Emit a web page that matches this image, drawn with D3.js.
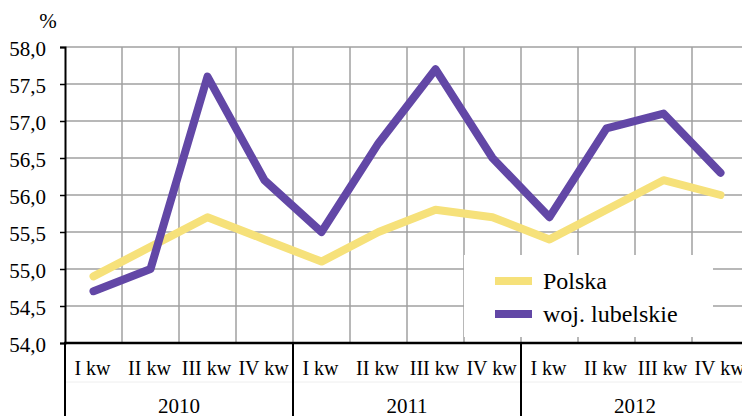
<!DOCTYPE html>
<html><head><meta charset="utf-8">
<script src="https://cdn.jsdelivr.net/npm/d3@7"></script>
<style>body{margin:0;background:#fff}svg{display:block}</style>
</head><body><svg id="c" width="742" height="416"></svg>
<script>
const quarters = ["I kw","II kw","III kw","IV kw"];
const years = ["2010","2011","2012"];
const polska = [54.9,55.3,55.7,55.4,55.1,55.5,55.8,55.7,55.4,55.8,56.2,56.0];
const lubelskie = [54.7,55.0,57.6,56.2,55.5,56.7,57.7,56.5,55.7,56.9,57.1,56.3];
const yTicks = [54.0,54.5,55.0,55.5,56.0,56.5,57.0,57.5,58.0];
const seriesNames = ["Polska","woj. lubelskie"];

const svg = d3.select("#c");
const cats = [];
years.forEach(y => quarters.forEach(q => cats.push(y + "|" + q)));
const x = d3.scaleBand().domain(cats).range([65, 749]).padding(0);
const y = d3.scaleLinear().domain([54, 58]).range([343, 47]);
const fmt = v => v.toFixed(1).replace(".", ",");
const FF = "'Liberation Serif'";

// horizontal gridlines
svg.append("g").selectAll("line").data(yTicks.slice(1)).join("line")
  .attr("x1", 65).attr("x2", 742).attr("y1", d => y(d)).attr("y2", d => y(d))
  .attr("stroke", "#a0a0a0").attr("stroke-width", 1.5);
// vertical gridlines
svg.append("g").selectAll("line").data(cats.slice(1)).join("line")
  .attr("x1", d => x(d)).attr("x2", d => x(d)).attr("y1", 47).attr("y2", 343)
  .attr("stroke", "#a0a0a0").attr("stroke-width", 1.5);

// faint table line
svg.append("line").attr("x1", 65).attr("x2", 742).attr("y1", 382).attr("y2", 382)
  .attr("stroke", "#eeeeee").attr("stroke-width", 1);

// y axis
const yAxis = d3.axisLeft(y).tickValues(yTicks).tickSize(5).tickFormat(fmt);
const gy = svg.append("g").attr("transform", "translate(65,0)").call(yAxis)
  .attr("font-family", null).attr("font-size", null);
gy.select(".domain").attr("stroke", "#000").attr("stroke-width", 2);
gy.selectAll(".tick line").attr("stroke", "#000").attr("stroke-width", 1.5);
gy.selectAll(".tick text").attr("x", -19).attr("dy", "0.42em")
  .style("font-family", FF).style("font-size", "21px").attr("fill", "#000");

// x axis line
svg.append("line").attr("x1", 64).attr("x2", 742).attr("y1", 343).attr("y2", 343)
  .attr("stroke", "#000").attr("stroke-width", 2.5);
// year separators
const yearX = d3.scaleBand().domain(years).range([65, 749]);
svg.append("g").selectAll("line").data(years).join("line")
  .attr("x1", d => yearX(d)).attr("x2", d => yearX(d)).attr("y1", 343).attr("y2", 416)
  .attr("stroke", "#000").attr("stroke-width", 2);
// quarter labels
svg.append("g").selectAll("text").data(cats).join("text")
  .attr("x", d => x(d) + x.bandwidth() / 2 - 1).attr("y", 375)
  .attr("text-anchor", "middle").style("font-family", FF).style("font-size", "20px")
  .text(d => d.split("|")[1]);
// year labels
svg.append("g").selectAll("text").data(years).join("text")
  .attr("x", d => yearX(d) + yearX.bandwidth() / 2).attr("y", 413)
  .attr("text-anchor", "middle").style("font-family", FF).style("font-size", "21px").text(d => d);

// % label
svg.append("text").attr("x", 48).attr("y", 28).attr("text-anchor", "middle")
  .style("font-family", FF).style("font-size", "21px").text("%");

// legend box
svg.append("rect").attr("x", 464).attr("y", 255).attr("width", 249).attr("height", 82).attr("fill", "#fff");

const colors = ["#f6e17a", "#6247a6"];
const line = d3.line().x((d, i) => x(cats[i]) + x.bandwidth() / 2).y(d => y(d));
[polska, lubelskie].forEach((s, i) => {
  svg.append("path").datum(s).attr("d", line).attr("fill", "none")
    .attr("stroke", colors[i]).attr("stroke-width", 8)
    .attr("stroke-linejoin", "round").attr("stroke-linecap", "round");
});

// legend
const lg = svg.append("g");
seriesNames.forEach((n, i) => {
  const ly = 281 + i * 33;
  lg.append("line").attr("x1", 495).attr("x2", 532).attr("y1", ly).attr("y2", ly)
    .attr("stroke", colors[i]).attr("stroke-width", 8);
  lg.append("text").attr("x", 543).attr("y", ly + 8)
    .style("font-family", FF).style("font-size", "24px").text(n);
});
</script></body></html>
